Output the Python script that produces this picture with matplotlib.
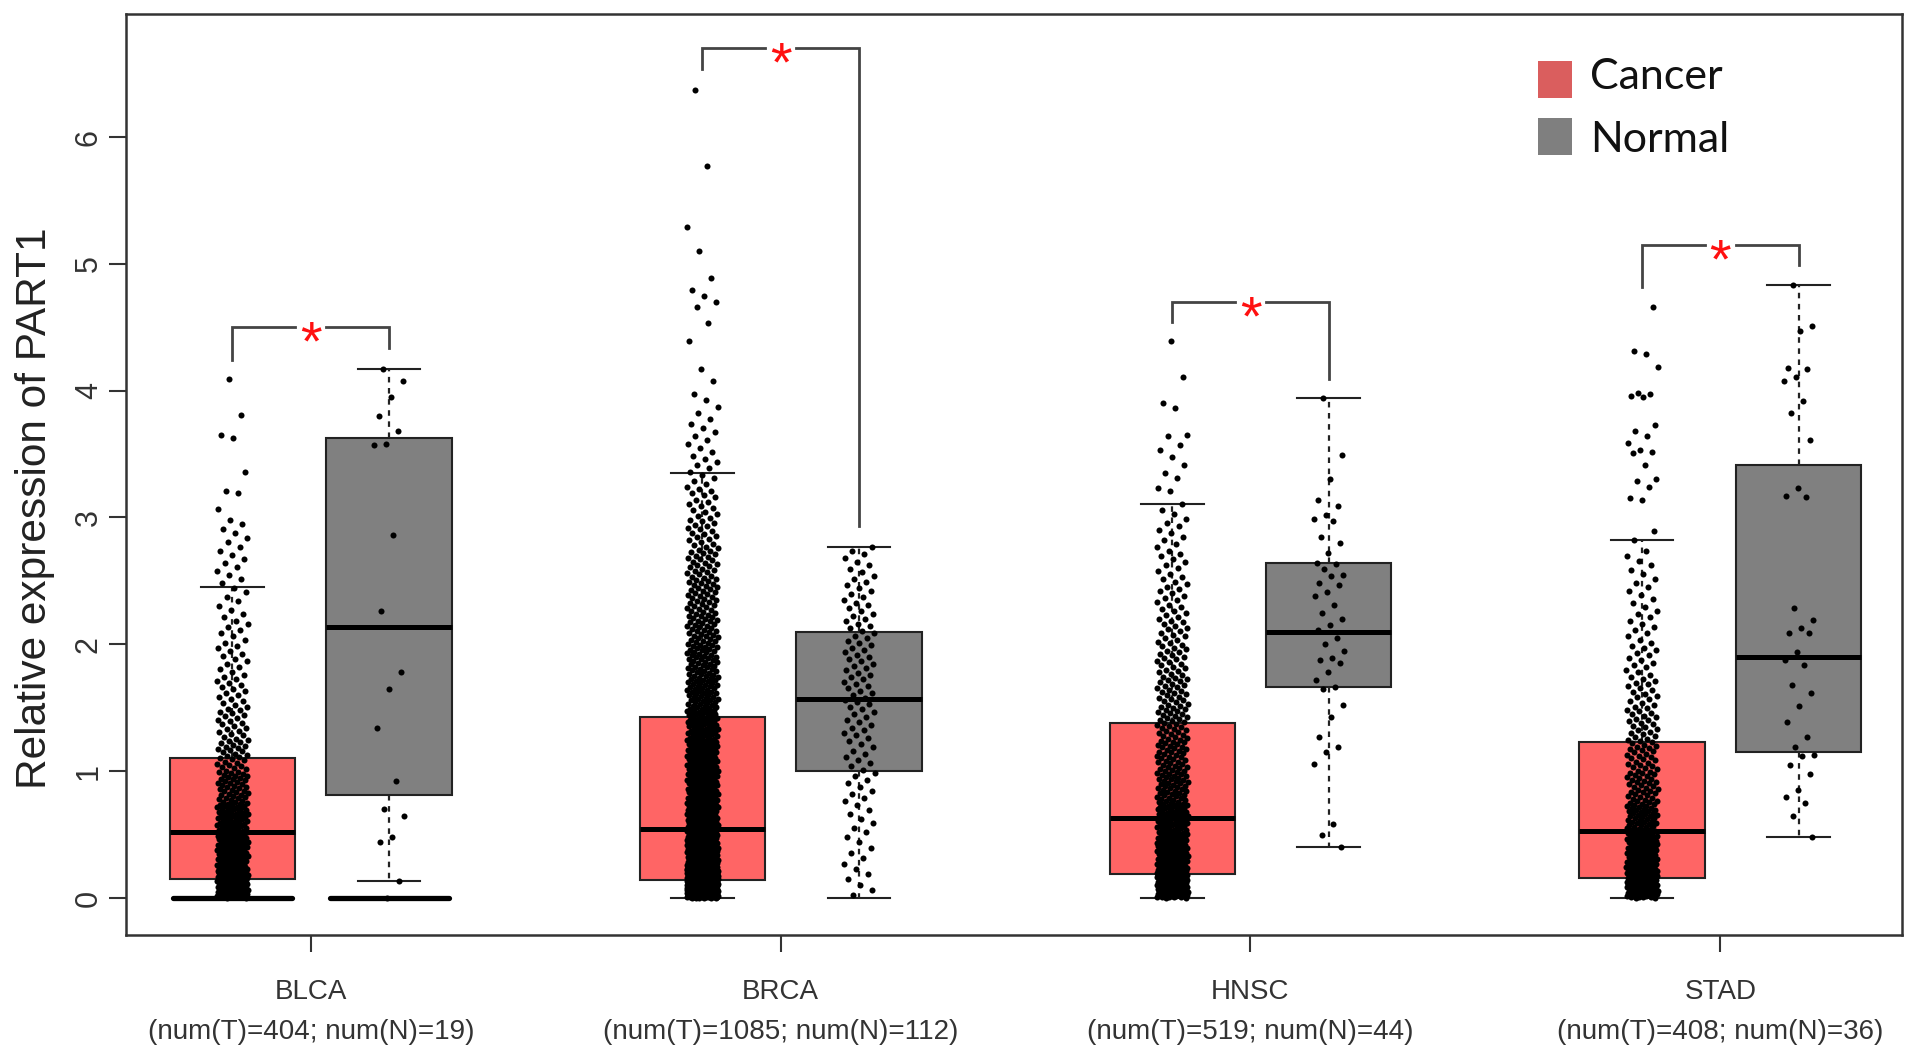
import numpy as np
import matplotlib.pyplot as plt
from matplotlib.patches import Rectangle

plt.rcParams['font.family'] = ['Liberation Sans', 'DejaVu Sans']

groups = ['BLCA', 'BRCA', 'HNSC', 'STAD']
n_tumor = [404, 1085, 519, 408]
n_normal = [19, 112, 44, 36]

# box stats: q1, median, q3, lower whisker, upper whisker
tumor_box = [(0.15, 0.52, 1.10, 0.00, 2.45),
             (0.14, 0.54, 1.43, 0.00, 3.35),
             (0.19, 0.63, 1.38, 0.00, 3.11),
             (0.16, 0.53, 1.23, 0.00, 2.82)]
normal_box = [(0.81, 2.14, 3.63, 0.13, 4.17),
              (1.00, 1.57, 2.10, 0.00, 2.77),
              (1.66, 2.10, 2.64, 0.40, 3.94),
              (1.15, 1.90, 3.41, 0.48, 4.83)]
zero_bar = [True, False, False, False]

# dense columns: number of points per 0.25-wide band from 0 up, then single points above
bin_step = 0.25
blca_t_bins = [113, 75, 60, 40, 28, 20, 16, 12, 10, 7, 8, 7]
blca_t_extra = [3.07, 3.19, 3.21, 3.36, 3.63, 3.65, 3.81, 4.09]
brca_t_bins = [377, 140, 100, 75, 70, 60, 50, 45, 38, 32, 27, 20, 15, 10, 8, 5]
brca_t_extra = [4.08, 4.17, 4.39, 4.53, 4.66, 4.70, 4.75, 4.79, 4.89, 5.10, 5.29, 5.77, 6.37]
hnsc_t_bins = [146, 80, 60, 45, 38, 32, 27, 22, 18, 14, 11, 9]
hnsc_t_extra = [3.03, 3.06, 3.11, 3.21, 3.23, 3.31, 3.35, 3.41, 3.48, 3.53, 3.57,
                3.64, 3.65, 3.86, 3.90, 4.11, 4.39]
stad_t_bins = [120, 75, 50, 35, 28, 22, 17, 13, 10, 8, 7]
stad_t_extra = [2.82, 2.89, 3.14, 3.15, 3.24, 3.29, 3.30, 3.41, 3.51, 3.52, 3.53, 3.59,
                3.64, 3.68, 3.73, 3.95, 3.96, 3.97, 3.98, 4.19, 4.29, 4.31, 4.66]
brca_n_bins = [6, 6, 7, 9, 10, 12, 14, 14, 13, 11, 9]
brca_n_extra = [2.77]

# sparse columns: single points
blca_n_vals = [4.17, 4.08, 3.95, 3.80, 3.68, 3.58, 3.57, 2.86, 2.26, 1.78, 1.65, 1.34,
               0.92, 0.70, 0.65, 0.48, 0.44, 0.13, 0.00]
hnsc_n_vals = [3.94, 3.49, 3.30, 3.14, 3.09, 3.02, 2.99, 2.97, 2.85, 2.80, 2.72, 2.64,
               2.63, 2.59, 2.55, 2.54, 2.48, 2.47, 2.41, 2.38, 2.31, 2.25, 2.20, 2.15,
               2.11, 2.05, 2.00, 1.95, 1.89, 1.88, 1.85, 1.78, 1.72, 1.66, 1.65, 1.52,
               1.43, 1.27, 1.19, 1.15, 1.06, 0.58, 0.50, 0.40]
stad_n_vals = [4.83, 4.51, 4.47, 4.18, 4.17, 4.11, 4.08, 3.92, 3.82, 3.61, 3.23, 3.17,
               3.16, 2.29, 2.19, 2.13, 2.09, 2.09, 1.94, 1.88, 1.84, 1.68, 1.62, 1.51,
               1.39, 1.27, 1.19, 1.13, 1.12, 1.05, 0.98, 0.85, 0.80, 0.75, 0.65, 0.48]

# significance brackets: top line, bottom of tumour leg, bottom of normal leg
bracket_y = [4.50, 6.70, 4.70, 5.15]
leg_tumor = [4.24, 6.54, 4.54, 4.82]
leg_normal = [4.34, 2.93, 4.09, 4.99]


def expand(bins, extra):
    ys = []
    for i, n in enumerate(bins):
        lo = i * bin_step
        ys += [lo + bin_step * (j + 0.5) / n for j in range(n)]
    return np.array(ys + list(extra))


def jitter(n, half=0.1):
    k = np.arange(n)
    return half * (2 * ((k * 0.618034 + 0.31) % 1) - 1)


tumor_pts = [expand(blca_t_bins, blca_t_extra), expand(brca_t_bins, brca_t_extra),
             expand(hnsc_t_bins, hnsc_t_extra), expand(stad_t_bins, stad_t_extra)]
normal_pts = [np.array(blca_n_vals), expand(brca_n_bins, brca_n_extra),
              np.array(hnsc_n_vals), np.array(stad_n_vals)]

tpos = [1 + 3 * i for i in range(4)]
npos = [2 + 3 * i for i in range(4)]

W, H = 1913, 1055
fig = plt.figure(figsize=(W / 100, H / 100), dpi=100)
ax = fig.add_axes([126 / W, 1 - 935 / H, (1902 - 126) / W, (935 - 14) / H])

edge = '#222222'


def box_stats(rows):
    return [dict(q1=a, med=m, q3=b, whislo=lo, whishi=hi, fliers=[]) for a, m, b, lo, hi in rows]


for rows, pos, col in [(tumor_box, tpos, '#FF6565'), (normal_box, npos, '#808080')]:
    ax.bxp(box_stats(rows), positions=pos, widths=0.8, patch_artist=True, showfliers=False,
           boxprops=dict(facecolor=col, edgecolor=edge, linewidth=1.5),
           whiskerprops=dict(color=edge, linestyle=(0, (2.5, 2.5)), linewidth=1.6),
           capprops=dict(color=edge, linewidth=1.5), capwidths=0.4,
           medianprops=dict(color='black', linewidth=3.6, solid_capstyle='butt'),
           zorder=2)

for i in range(4):
    if zero_bar[i]:
        for p in (tpos[i], npos[i]):
            ax.plot([p - 0.38, p + 0.38], [0, 0], color='black', lw=3.8,
                    solid_capstyle='round', zorder=2.5)

for i in range(4):
    for p, ys in ((tpos[i], tumor_pts[i]), (npos[i], normal_pts[i])):
        ax.scatter(p + jitter(len(ys)), ys, s=19, color='black', linewidths=0, zorder=3)

fs_star = 40
for i in range(4):
    xt, xn = tpos[i], npos[i]
    xm = (xt + xn) / 2
    y = bracket_y[i]
    ax.plot([xt, xt, xm - 0.1], [leg_tumor[i], y, y], color='#444444', lw=2,
            solid_joinstyle='miter', zorder=4)
    ax.plot([xm + 0.1, xn, xn], [y, y, leg_normal[i]], color='#444444', lw=2,
            solid_joinstyle='miter', zorder=4)
    ax.annotate('*', (xm, y), xytext=(0, -0.58 * fs_star), textcoords='offset points',
                ha='center', va='baseline', color='#FF1010', fontsize=fs_star, zorder=5)

ax.set_xlim(0.32, 11.66)
ax.set_ylim(-0.292, 6.97)

ax.set_xticks([1.5 + 3 * i for i in range(4)])
ax.set_xticklabels([f'{g}\n(num(T)={a}; num(N)={b})' for g, a, b in zip(groups, n_tumor, n_normal)],
                   linespacing=1.7)
ax.set_yticks(range(7))
ax.set_yticklabels([str(v) for v in range(7)], rotation=90, va='center', ha='right')
ax.tick_params(axis='x', length=12, width=1.5, pad=20, labelsize=20, colors='#333333')
ax.tick_params(axis='y', length=12, width=1.5, pad=4, labelsize=22, colors='#333333')
ax.set_ylabel('Relative expression of PART1', fontsize=30.5, color='#222222')
ax.yaxis.set_label_coords(-0.040, 0.4636)
for s in ax.spines.values():
    s.set_color('#333333')
    s.set_linewidth(1.8)

# legend drawn in pixel positions
legend_items = [('Cancer', '#DA5E5E', 61, 98, 89), ('Normal', '#7F7F7F', 118, 155, 152)]
for label, col, y0, y1, base in legend_items:
    fig.add_artist(Rectangle((1538 / W, 1 - y1 / H), 34 / W, (y1 - y0) / H,
                             transform=fig.transFigure, color=col, lw=0))
    fig.text(1590 / W, 1 - base / H, label, fontsize=31, family=['Lato', 'DejaVu Sans'],
             va='baseline', ha='left', color='#111111')

fig.savefig('out.png', dpi=100)
